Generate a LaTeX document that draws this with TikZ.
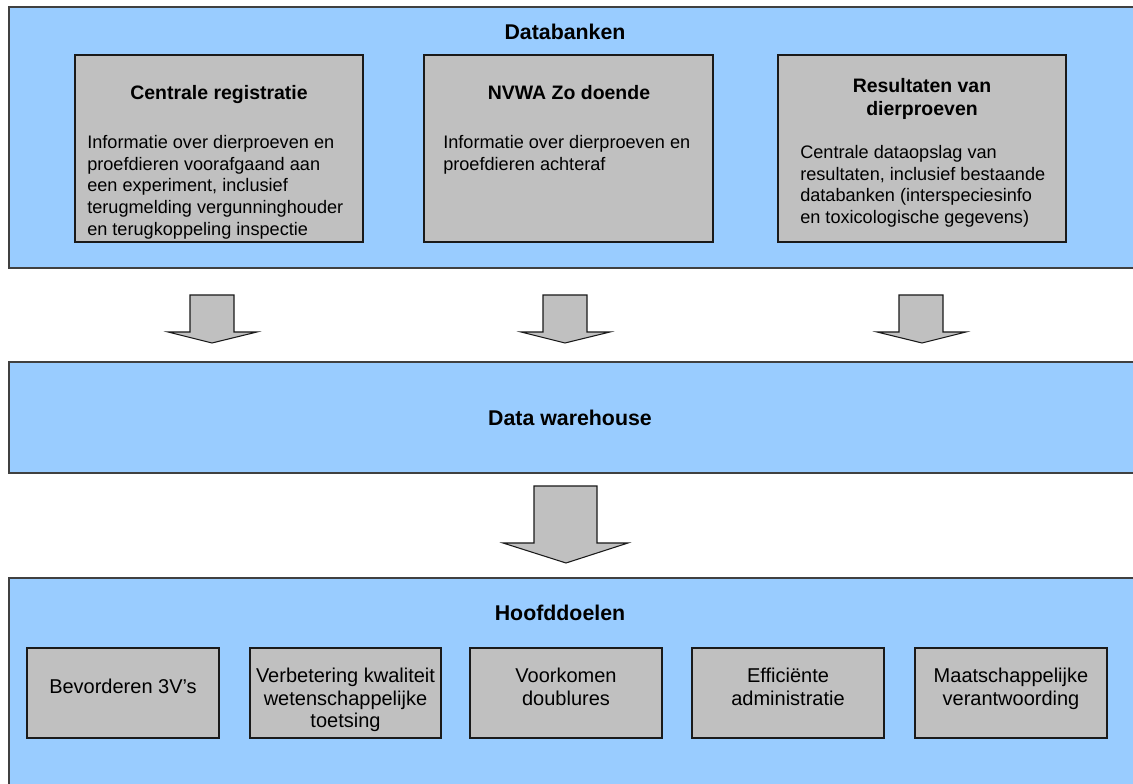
\documentclass[tikz,border=0pt]{standalone}
\usepackage{fontspec}
\setmainfont{Liberation Sans}
\usepackage{tikz}
\definecolor{panelblue}{HTML}{99CCFF}
\definecolor{boxgray}  {HTML}{C0C0C0}
\definecolor{panelline}{HTML}{404040}
\definecolor{boxline}  {HTML}{1A1A1A}
\tikzset{
  panel/.style={fill=panelblue,draw=panelline,line width=1.4pt},
  infobox/.style={fill=boxgray,draw=boxline,line width=1pt},
  blockarrow/.style={fill=boxgray,draw=boxline,line width=0.8pt,line join=miter},
  paneltitle/.style={anchor=base,inner sep=0pt,font=\bfseries\fontsize{16}{19}\selectfont},
  boxtitle/.style={anchor=base,inner sep=0pt,align=center,font=\bfseries\fontsize{14.6}{17.3}\selectfont},
  boxtext/.style={anchor=north west,inner sep=0pt,align=left,font=\fontsize{13.6}{16.3}\selectfont},
  goaltext/.style={anchor=north,inner sep=0pt,align=center,font=\fontsize{15}{16.9}\selectfont}
}
\begin{document}
\begin{tikzpicture}[x=0.75pt,y=-0.75pt]
\useasboundingbox(0,0)rectangle(1133,784);
% panels
\filldraw[panel](9,7)rectangle(1140,268);
\filldraw[panel](9,362)rectangle(1140,473);
\filldraw[panel](9,578)rectangle(1140,790);
\node[paneltitle](databanken)at(565,40){Databanken};
\node[paneltitle](warehouse)at(570,426){Data warehouse};
\node[paneltitle](hoofddoelen)at(560,620){Hoofddoelen};
% databanken
\filldraw[infobox](75,55)rectangle(363,242);
\node[boxtitle](centraal)at(219,100){Centrale registratie};
\node[boxtext](centraaltxt)at(87,135){Informatie over dierproeven en\\proefdieren voorafgaand aan\\een experiment, inclusief\\terugmelding vergunninghouder\\en terugkoppeling inspectie};
\filldraw[infobox](424,55)rectangle(713,242);
\node[boxtitle](nvwa)at(569,100){NVWA Zo doende};
\node[boxtext](nvwatxt)at(443,135){Informatie over dierproeven en\\proefdieren achteraf};
\filldraw[infobox](778,55)rectangle(1066,242);
\node[boxtitle](resultaten)at(922,116){Resultaten van\\dierproeven};
\node[boxtext](resultatentxt)at(800,145){Centrale dataopslag van\\resultaten, inclusief bestaande\\databanken (interspeciesinfo\\en toxicologische gegevens)};
% pijlen
\filldraw[blockarrow](190,295)--(234,295)--(234,332)--(257,332)--(212,343)--(168,332)--(190,332)--cycle;
\filldraw[blockarrow](543,295)--(587,295)--(587,332)--(610,332)--(565,343)--(521,332)--(543,332)--cycle;
\filldraw[blockarrow](899,295)--(943,295)--(943,332)--(966,332)--(922,343)--(877,332)--(899,332)--cycle;
\filldraw[blockarrow](534,486)--(597,486)--(597,543)--(628,543)--(566,563)--(503,543)--(534,543)--cycle;
% hoofddoelen
\filldraw[infobox](27,648)rectangle(219,738);
\node[goaltext](drievs)at(123,679){Bevorderen 3V’s};
\filldraw[infobox](250,648)rectangle(441,738);
\node[goaltext](toetsing)at(345.5,668){Verbetering kwaliteit\\wetenschappelijke\\toetsing};
\filldraw[infobox](470,648)rectangle(662,738);
\node[goaltext](doublures)at(566,668){Voorkomen\\doublures};
\filldraw[infobox](692,648)rectangle(884,738);
\node[goaltext](administratie)at(788,668){Efficiënte\\administratie};
\filldraw[infobox](915,648)rectangle(1107,738);
\node[goaltext](verantwoording)at(1011,668){Maatschappelijke\\verantwoording};
\end{tikzpicture}
\end{document}
